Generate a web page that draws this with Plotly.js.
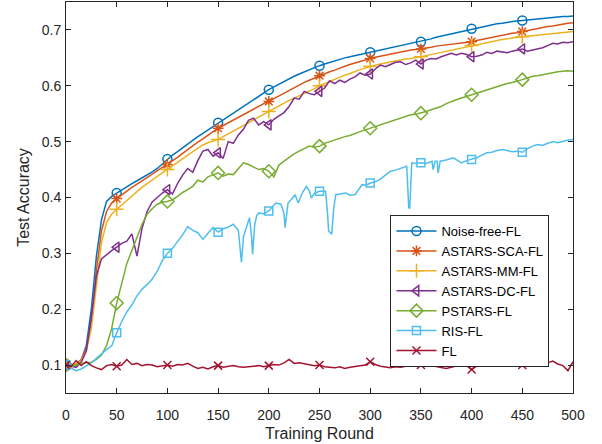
<!DOCTYPE html>
<html><head><meta charset="utf-8">
<script src="https://cdn.plot.ly/plotly-3.0.1.min.js"></script>
<style>html,body{margin:0;padding:0;background:#fff}#chart{width:602px;height:444px}</style>
</head><body><div id="chart"></div>
<script>
// Training rounds (sampled every 5 rounds)
const rounds = [0,5,10,15,20,25,30,35,40,45,50,55,60,65,70,75,80,85,90,95,100,
105,110,115,120,125,130,135,140,145,150,155,160,165,170,175,180,185,190,195,200,
205,210,215,220,225,230,235,240,245,250,255,260,265,270,275,280,285,290,295,300,
305,310,315,320,325,330,335,340,345,350,355,360,365,370,375,380,385,390,395,400,
405,410,415,420,425,430,435,440,445,450,455,460,465,470,475,480,485,490,495,500];

const noiseFreeFL = [0.100,0.099,0.100,0.108,0.135,0.200,0.295,0.360,0.393,0.402,0.408,
0.414,0.420,0.425,0.430,0.435,0.440,0.446,0.452,0.460,0.469,
0.476,0.482,0.489,0.496,0.503,0.509,0.515,0.521,0.527,0.534,
0.540,0.546,0.552,0.558,0.564,0.570,0.576,0.581,0.587,0.593,
0.598,0.603,0.608,0.612,0.617,0.621,0.625,0.629,0.633,0.636,
0.639,0.642,0.645,0.648,0.650,0.652,0.654,0.656,0.658,0.660,
0.662,0.664,0.666,0.668,0.670,0.672,0.674,0.676,0.677,0.679,
0.682,0.684,0.687,0.689,0.692,0.694,0.696,0.698,0.700,0.702,
0.704,0.706,0.708,0.709,0.711,0.712,0.714,0.715,0.716,0.717,
0.718,0.719,0.720,0.721,0.722,0.723,0.723,0.724,0.724,0.725];

const astarsScaFL = [0.100,0.100,0.102,0.110,0.130,0.180,0.270,0.340,0.375,0.390,0.398,
0.405,0.412,0.418,0.424,0.430,0.436,0.441,0.447,0.453,0.459,
0.466,0.472,0.479,0.486,0.492,0.499,0.505,0.512,0.518,0.524,
0.529,0.534,0.539,0.544,0.549,0.554,0.559,0.564,0.568,0.572,
0.577,0.582,0.587,0.592,0.597,0.601,0.606,0.610,0.614,0.618,
0.621,0.625,0.628,0.632,0.635,0.638,0.641,0.644,0.646,0.649,
0.651,0.653,0.655,0.657,0.659,0.661,0.662,0.664,0.665,0.666,
0.668,0.669,0.671,0.672,0.674,0.675,0.676,0.677,0.678,0.679,
0.681,0.683,0.685,0.687,0.689,0.690,0.692,0.694,0.695,0.697,
0.699,0.701,0.702,0.704,0.706,0.707,0.709,0.710,0.712,0.713];

const astarsMmFL = [0.100,0.100,0.101,0.108,0.125,0.165,0.245,0.320,0.355,0.370,0.379,
0.387,0.395,0.403,0.410,0.418,0.425,0.432,0.438,0.444,0.450,
0.456,0.462,0.469,0.476,0.482,0.489,0.494,0.498,0.501,0.504,
0.509,0.514,0.519,0.525,0.530,0.535,0.540,0.545,0.550,0.554,
0.559,0.564,0.569,0.574,0.578,0.582,0.587,0.591,0.595,0.600,
0.604,0.607,0.611,0.615,0.619,0.622,0.626,0.629,0.632,0.635,
0.637,0.639,0.641,0.643,0.645,0.647,0.648,0.649,0.650,0.652,
0.654,0.656,0.658,0.660,0.662,0.664,0.666,0.668,0.670,0.672,
0.674,0.676,0.677,0.679,0.681,0.683,0.684,0.686,0.687,0.688,
0.689,0.690,0.691,0.692,0.693,0.694,0.695,0.696,0.696,0.697];

const astarsDcFL = [0.100,0.098,0.096,0.105,0.125,0.185,0.260,0.290,0.298,0.305,0.311,
0.318,0.322,0.335,0.295,0.345,0.375,0.392,0.400,0.408,0.414,
0.406,0.425,0.440,0.452,0.445,0.466,0.483,0.486,0.474,0.480,
0.470,0.500,0.497,0.512,0.522,0.538,0.542,0.530,0.536,0.530,
0.540,0.546,0.552,0.563,0.578,0.576,0.590,0.586,0.584,0.590,
0.596,0.609,0.604,0.610,0.606,0.612,0.616,0.623,0.619,0.621,
0.630,0.637,0.634,0.638,0.642,0.643,0.638,0.641,0.646,0.639,
0.646,0.649,0.648,0.652,0.655,0.658,0.655,0.658,0.656,0.652,
0.653,0.655,0.660,0.658,0.662,0.661,0.659,0.662,0.664,0.666,
0.662,0.664,0.667,0.668,0.672,0.676,0.675,0.678,0.677,0.679];

const pstarsFL = [0.100,0.097,0.100,0.103,0.104,0.105,0.110,0.118,0.135,0.165,0.211,
0.248,0.282,0.305,0.330,0.352,0.370,0.380,0.388,0.392,0.393,
0.396,0.402,0.409,0.414,0.420,0.431,0.428,0.437,0.441,0.444,
0.438,0.442,0.441,0.452,0.462,0.459,0.455,0.450,0.452,0.447,
0.437,0.458,0.465,0.472,0.478,0.483,0.488,0.492,0.490,0.492,
0.497,0.500,0.503,0.507,0.509,0.511,0.515,0.518,0.521,0.524,
0.526,0.530,0.533,0.536,0.538,0.542,0.545,0.548,0.549,0.551,
0.554,0.557,0.560,0.563,0.568,0.572,0.575,0.578,0.581,0.584,
0.587,0.590,0.593,0.596,0.599,0.602,0.604,0.606,0.608,0.611,
0.614,0.617,0.618,0.620,0.622,0.624,0.625,0.626,0.627,0.626];

const flBaseline = [0.100,0.097,0.108,0.099,0.106,0.099,0.095,0.092,0.099,0.101,0.098,
0.100,0.110,0.101,0.103,0.099,0.101,0.100,0.097,0.099,0.100,
0.098,0.101,0.100,0.103,0.098,0.094,0.096,0.093,0.097,0.099,
0.096,0.098,0.099,0.097,0.096,0.097,0.098,0.099,0.097,0.099,
0.101,0.100,0.104,0.110,0.103,0.104,0.102,0.100,0.099,0.100,
0.097,0.096,0.095,0.097,0.094,0.096,0.097,0.098,0.100,0.106,
0.101,0.098,0.097,0.095,0.097,0.096,0.098,0.099,0.101,0.100,
0.102,0.099,0.097,0.095,0.094,0.096,0.098,0.101,0.099,0.092,
0.098,0.101,0.102,0.100,0.101,0.102,0.101,0.098,0.101,0.100,
0.101,0.103,0.101,0.102,0.104,0.107,0.102,0.099,0.090,0.106];

// RIS-FL has sharp one-round dips, so it keeps its own round list
const risRounds = [0,5,10,15,20,25,30,35,40,45,50,55,60,65,70,75,80,85,90,95,100,
105,110,115,120,125,130,135,140,145,150,155,160,165,170,172,173,175,178,181,183,184,186,188,190,195,200,
205,207,212,215,216,218,219,222,226,229,233,237,240,242,245,250,256,258,259,262,264,266,270,276,280,285,290,292,296,300,
305,310,315,320,325,330,333,336,337,338,339,340,341,345,350,355,361,362,364,366,367,369,375,382,386,390,395,400,
405,410,415,420,425,431,435,440,445,450,455,460,465,470,475,481,485,490,495,500];
const risFL = [0.100,0.095,0.090,0.093,0.098,0.104,0.112,0.120,0.128,0.134,0.158,0.178,0.195,0.208,0.224,0.236,0.244,0.254,0.268,0.287,0.300,
0.309,0.320,0.333,0.348,0.341,0.337,0.325,0.336,0.346,0.338,0.344,0.347,0.352,0.341,0.300,0.284,0.330,0.349,0.364,0.330,0.298,0.350,0.367,0.372,0.371,0.376,
0.386,0.390,0.388,0.372,0.346,0.378,0.390,0.396,0.405,0.390,0.408,0.420,0.412,0.399,0.408,0.411,0.411,0.370,0.340,0.334,0.380,0.405,0.406,0.408,0.404,0.405,0.418,0.423,0.422,0.426,
0.428,0.433,0.440,0.447,0.449,0.452,0.453,0.456,0.420,0.382,0.380,0.420,0.462,0.461,0.462,0.461,0.465,0.450,0.465,0.465,0.444,0.465,0.467,0.471,0.466,0.462,0.466,0.468,
0.471,0.476,0.480,0.481,0.484,0.486,0.484,0.482,0.483,0.481,0.487,0.492,0.495,0.493,0.497,0.500,0.498,0.501,0.503,0.504];

const seriesNames = ['Noise-free-FL','ASTARS-SCA-FL','ASTARS-MM-FL','ASTARS-DC-FL','PSTARS-FL','RIS-FL','FL'];
const xTickVals = [0,50,100,150,200,250,300,350,400,450,500];
const yTickVals = [0.1,0.2,0.3,0.4,0.5,0.6,0.7];

const seriesX = [rounds, rounds, rounds, rounds, rounds, risRounds, rounds];
const seriesY = [noiseFreeFL, astarsScaFL, astarsMmFL, astarsDcFL, pstarsFL, risFL, flBaseline];
const colors = ['#0072BD','#D95319','#EDB120','#7E2F8E','#77AC30','#4DBEEE','#A2142F'];
const symbols = ['circle-open','asterisk-open','cross-thin-open','triangle-left-open','diamond-open','square-open','x-thin-open'];
const sizes = [9,9,10,9,10,8,8];
const CLEAR = 'rgba(0,0,0,0)';

const traces = seriesNames.map((name, i) => ({
  type: 'scatter',
  mode: 'lines+markers',
  name: name,
  x: seriesX[i],
  y: seriesY[i],
  line: {color: colors[i], width: 1.5},
  marker: {
    symbol: symbols[i],
    size: sizes[i],
    color: seriesX[i].map(r => (r % 50 === 0 && r < 500) ? colors[i] : CLEAR),
    line: {width: 1.5}
  },
  hoverinfo: 'skip'
}));

const axisCommon = {
  showline: true, linecolor: '#262626', linewidth: 1, mirror: 'ticks',
  ticks: 'inside', ticklen: 5, tickcolor: '#262626', tickwidth: 1,
  showgrid: false, zeroline: false,
  tickfont: {family: 'Liberation Sans, Arial, sans-serif', size: 14, color: '#262626'}
};

const layout = {
  width: 602, height: 444,
  margin: {l: 66, r: 29, t: 2, b: 51, pad: 0},
  paper_bgcolor: '#fff', plot_bgcolor: '#fff',
  font: {family: 'Liberation Sans, Arial, sans-serif', size: 14, color: '#262626'},
  showlegend: true,
  xaxis: Object.assign({}, axisCommon, {
    range: [0, 500], tickvals: xTickVals, ticklabelstandoff: 9,
    title: {text: 'Training Round', font: {size: 16, color: '#262626'}, standoff: 6}
  }),
  yaxis: Object.assign({}, axisCommon, {
    range: [0.05, 0.75], tickvals: yTickVals, tickformat: '.1f', ticklabelstandoff: 1,
    title: {text: 'Test Accuracy', font: {size: 16, color: '#262626'}, standoff: 8}
  }),
  legend: {
    x: 0.640, y: 0.455, xanchor: 'left', yanchor: 'top',
    bgcolor: '#fff', bordercolor: '#262626', borderwidth: 1,
    font: {size: 13, color: '#000'}, itemwidth: 40, tracegroupgap: 0
  }
};

Plotly.newPlot('chart', traces, layout, {displayModeBar: false, staticPlot: true});
</script>
</body></html>
